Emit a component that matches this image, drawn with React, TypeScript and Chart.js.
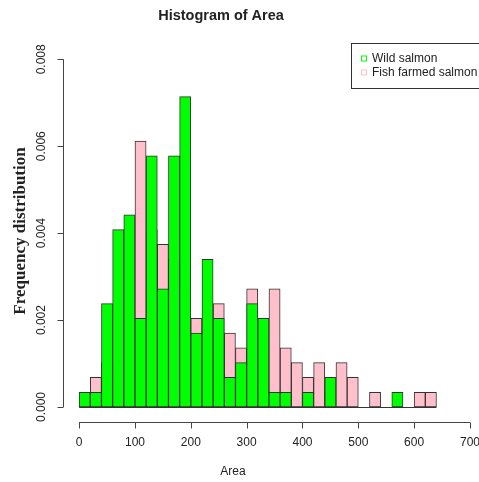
import { useEffect, useRef } from "react";
import { Chart, registerables } from "chart.js";

Chart.register(...registerables);

// Histogram breaks (bin edges) for Area
const breaks = [
  0, 20, 40, 60, 80, 100, 120, 140, 160, 180, 200, 220, 240, 260, 280, 300, 320,
  340, 360, 380, 400, 420, 440, 460, 480, 500, 520, 540, 560, 580, 600, 620, 640,
];

// Density per bin
const wildDensity = [
  0.00034, 0.00034, 0.00238, 0.00408, 0.00442, 0.00204, 0.00578, 0.00272,
  0.00578, 0.00714, 0.0017, 0.0034, 0.00204, 0.00068, 0.00102, 0.00238,
  0.00204, 0.00034, 0.00034, 0, 0.00034, 0, 0.00068, 0,
  0, 0, 0, 0, 0.00034, 0, 0, 0,
];
const farmedDensity = [
  0.00034, 0.00068, 0.00102, 0.00204, 0.00306, 0.00612, 0.00408, 0.00374,
  0.0034, 0.00272, 0.00204, 0.00204, 0.00238, 0.0017, 0.00136, 0.00272,
  0.00136, 0.00272, 0.00136, 0.00102, 0.00068, 0.00102, 0.00034, 0.00102,
  0.00068, 0, 0.00034, 0, 0, 0, 0.00034, 0.00034,
];

const xTicks = [0, 100, 200, 300, 400, 500, 600, 700];
const yTicks = [0, 0.002, 0.004, 0.006, 0.008];
const yTickLabels = ["0.000", "0.002", "0.004", "0.006", "0.008"];
const seriesNames = ["Wild salmon", "Fish farmed salmon"];
const seriesColors = ["#00FF00", "#FFC0CB"];
const titleText = "Histogram of Area";
const xLabel = "Area";
const yLabel = "Frequency distribution";

const SANS = "'Liberation Sans', Arial, sans-serif";
const SERIF = "'Liberation Serif', 'Times New Roman', serif";
const INK = "#222";
const EDGE = "#333";

const binPoints = (vals: number[]) =>
  vals.map((v, i) => ({ x: (breaks[i] + breaks[i + 1]) / 2, y: v }));

// Base-graphics style axes, title, labels and legend
const baseGraphics = {
  id: "baseGraphics",
  afterDraw(chart: any) {
    const { ctx, chartArea } = chart;
    const xs = chart.scales.x;
    const ys = chart.scales.y;
    ctx.save();
    ctx.lineWidth = 1;
    ctx.strokeStyle = EDGE;

    // outline along the bottom of every bin (empty bins included)
    const yb = Math.round(ys.getPixelForValue(0)) + 0.5;
    ctx.beginPath();
    ctx.moveTo(xs.getPixelForValue(breaks[0]), yb);
    ctx.lineTo(xs.getPixelForValue(breaks[breaks.length - 1]), yb);
    ctx.stroke();

    ctx.strokeStyle = "#444";
    // x axis
    const ax = Math.round(chartArea.bottom) + 1.5;
    ctx.beginPath();
    ctx.moveTo(xs.getPixelForValue(xTicks[0]), ax);
    ctx.lineTo(xs.getPixelForValue(xTicks[xTicks.length - 1]), ax);
    for (const t of xTicks) {
      const px = Math.round(xs.getPixelForValue(t)) + 0.5;
      ctx.moveTo(px, ax);
      ctx.lineTo(px, ax + 6);
    }
    ctx.stroke();
    ctx.fillStyle = INK;
    ctx.font = `12px ${SANS}`;
    ctx.textAlign = "center";
    ctx.textBaseline = "middle";
    for (const t of xTicks) {
      ctx.fillText(String(t), xs.getPixelForValue(t), ax + 20);
    }

    // y axis
    const ay = Math.round(chartArea.left) - 0.5;
    ctx.beginPath();
    ctx.moveTo(ay, ys.getPixelForValue(yTicks[0]));
    ctx.lineTo(ay, ys.getPixelForValue(yTicks[yTicks.length - 1]));
    for (const t of yTicks) {
      const py = Math.round(ys.getPixelForValue(t)) + 0.5;
      ctx.moveTo(ay, py);
      ctx.lineTo(ay - 6, py);
    }
    ctx.stroke();
    yTicks.forEach((t, i) => {
      ctx.save();
      ctx.translate(42, ys.getPixelForValue(t));
      ctx.rotate(-Math.PI / 2);
      ctx.fillText(yTickLabels[i], 0, 0);
      ctx.restore();
    });

    // axis titles
    ctx.fillText(xLabel, 233, 472);
    ctx.save();
    ctx.translate(21, 231);
    ctx.rotate(-Math.PI / 2);
    ctx.font = `bold 17px ${SERIF}`;
    ctx.fillText(yLabel, 0, 0);
    ctx.restore();

    // main title
    ctx.font = `bold 14.5px ${SANS}`;
    ctx.fillText(titleText, 221, 16);

    // legend
    ctx.strokeStyle = "#333";
    ctx.strokeRect(351.5, 43.5, 140, 45);
    ctx.font = `12px ${SANS}`;
    ctx.textAlign = "left";
    seriesNames.forEach((name, i) => {
      const cy = 58.5 + i * 14;
      ctx.fillStyle = "#fff";
      ctx.fillRect(361.5, cy - 2.5, 5, 5);
      ctx.strokeStyle = seriesColors[i];
      ctx.strokeRect(361.5, cy - 2.5, 5, 5);
      ctx.fillStyle = INK;
      ctx.fillText(name, 372, cy);
    });
    ctx.restore();
  },
};

export default function App() {
  const ref = useRef<HTMLCanvasElement>(null);

  useEffect(() => {
    document.body.style.margin = "0";
    const canvas = ref.current;
    if (!canvas) return;
    const chart = new Chart(canvas, {
      type: "bar",
      data: {
        datasets: [
          {
            label: seriesNames[0],
            data: binPoints(wildDensity),
            backgroundColor: seriesColors[0],
            borderColor: EDGE,
            borderWidth: 1,
            borderSkipped: false,
            grouped: false,
            barPercentage: 1,
            categoryPercentage: 1,
          },
          {
            label: seriesNames[1],
            data: binPoints(farmedDensity),
            backgroundColor: seriesColors[1],
            borderColor: EDGE,
            borderWidth: 1,
            borderSkipped: false,
            grouped: false,
            barPercentage: 1,
            categoryPercentage: 1,
          },
        ],
      },
      options: {
        responsive: false,
        animation: false,
        devicePixelRatio: 1,
        layout: { padding: { left: 63.5, right: 14.4, top: 45.4, bottom: 61.1 } },
        scales: {
          x: { type: "linear", min: -28, max: 728, offset: false, display: false },
          y: { type: "linear", min: -0.00032, max: 0.00832, display: false },
        },
        plugins: {
          legend: { display: false },
          tooltip: { enabled: false },
        },
      },
      plugins: [baseGraphics],
    });
    return () => chart.destroy();
  }, []);

  return (
    <div
      style={{
        position: "fixed",
        left: 0,
        top: 0,
        width: 479,
        height: 482,
        overflow: "hidden",
        background: "#fff",
      }}
    >
      <canvas ref={ref} width={500} height={482} style={{ width: 500, height: 482 }} />
    </div>
  );
}
